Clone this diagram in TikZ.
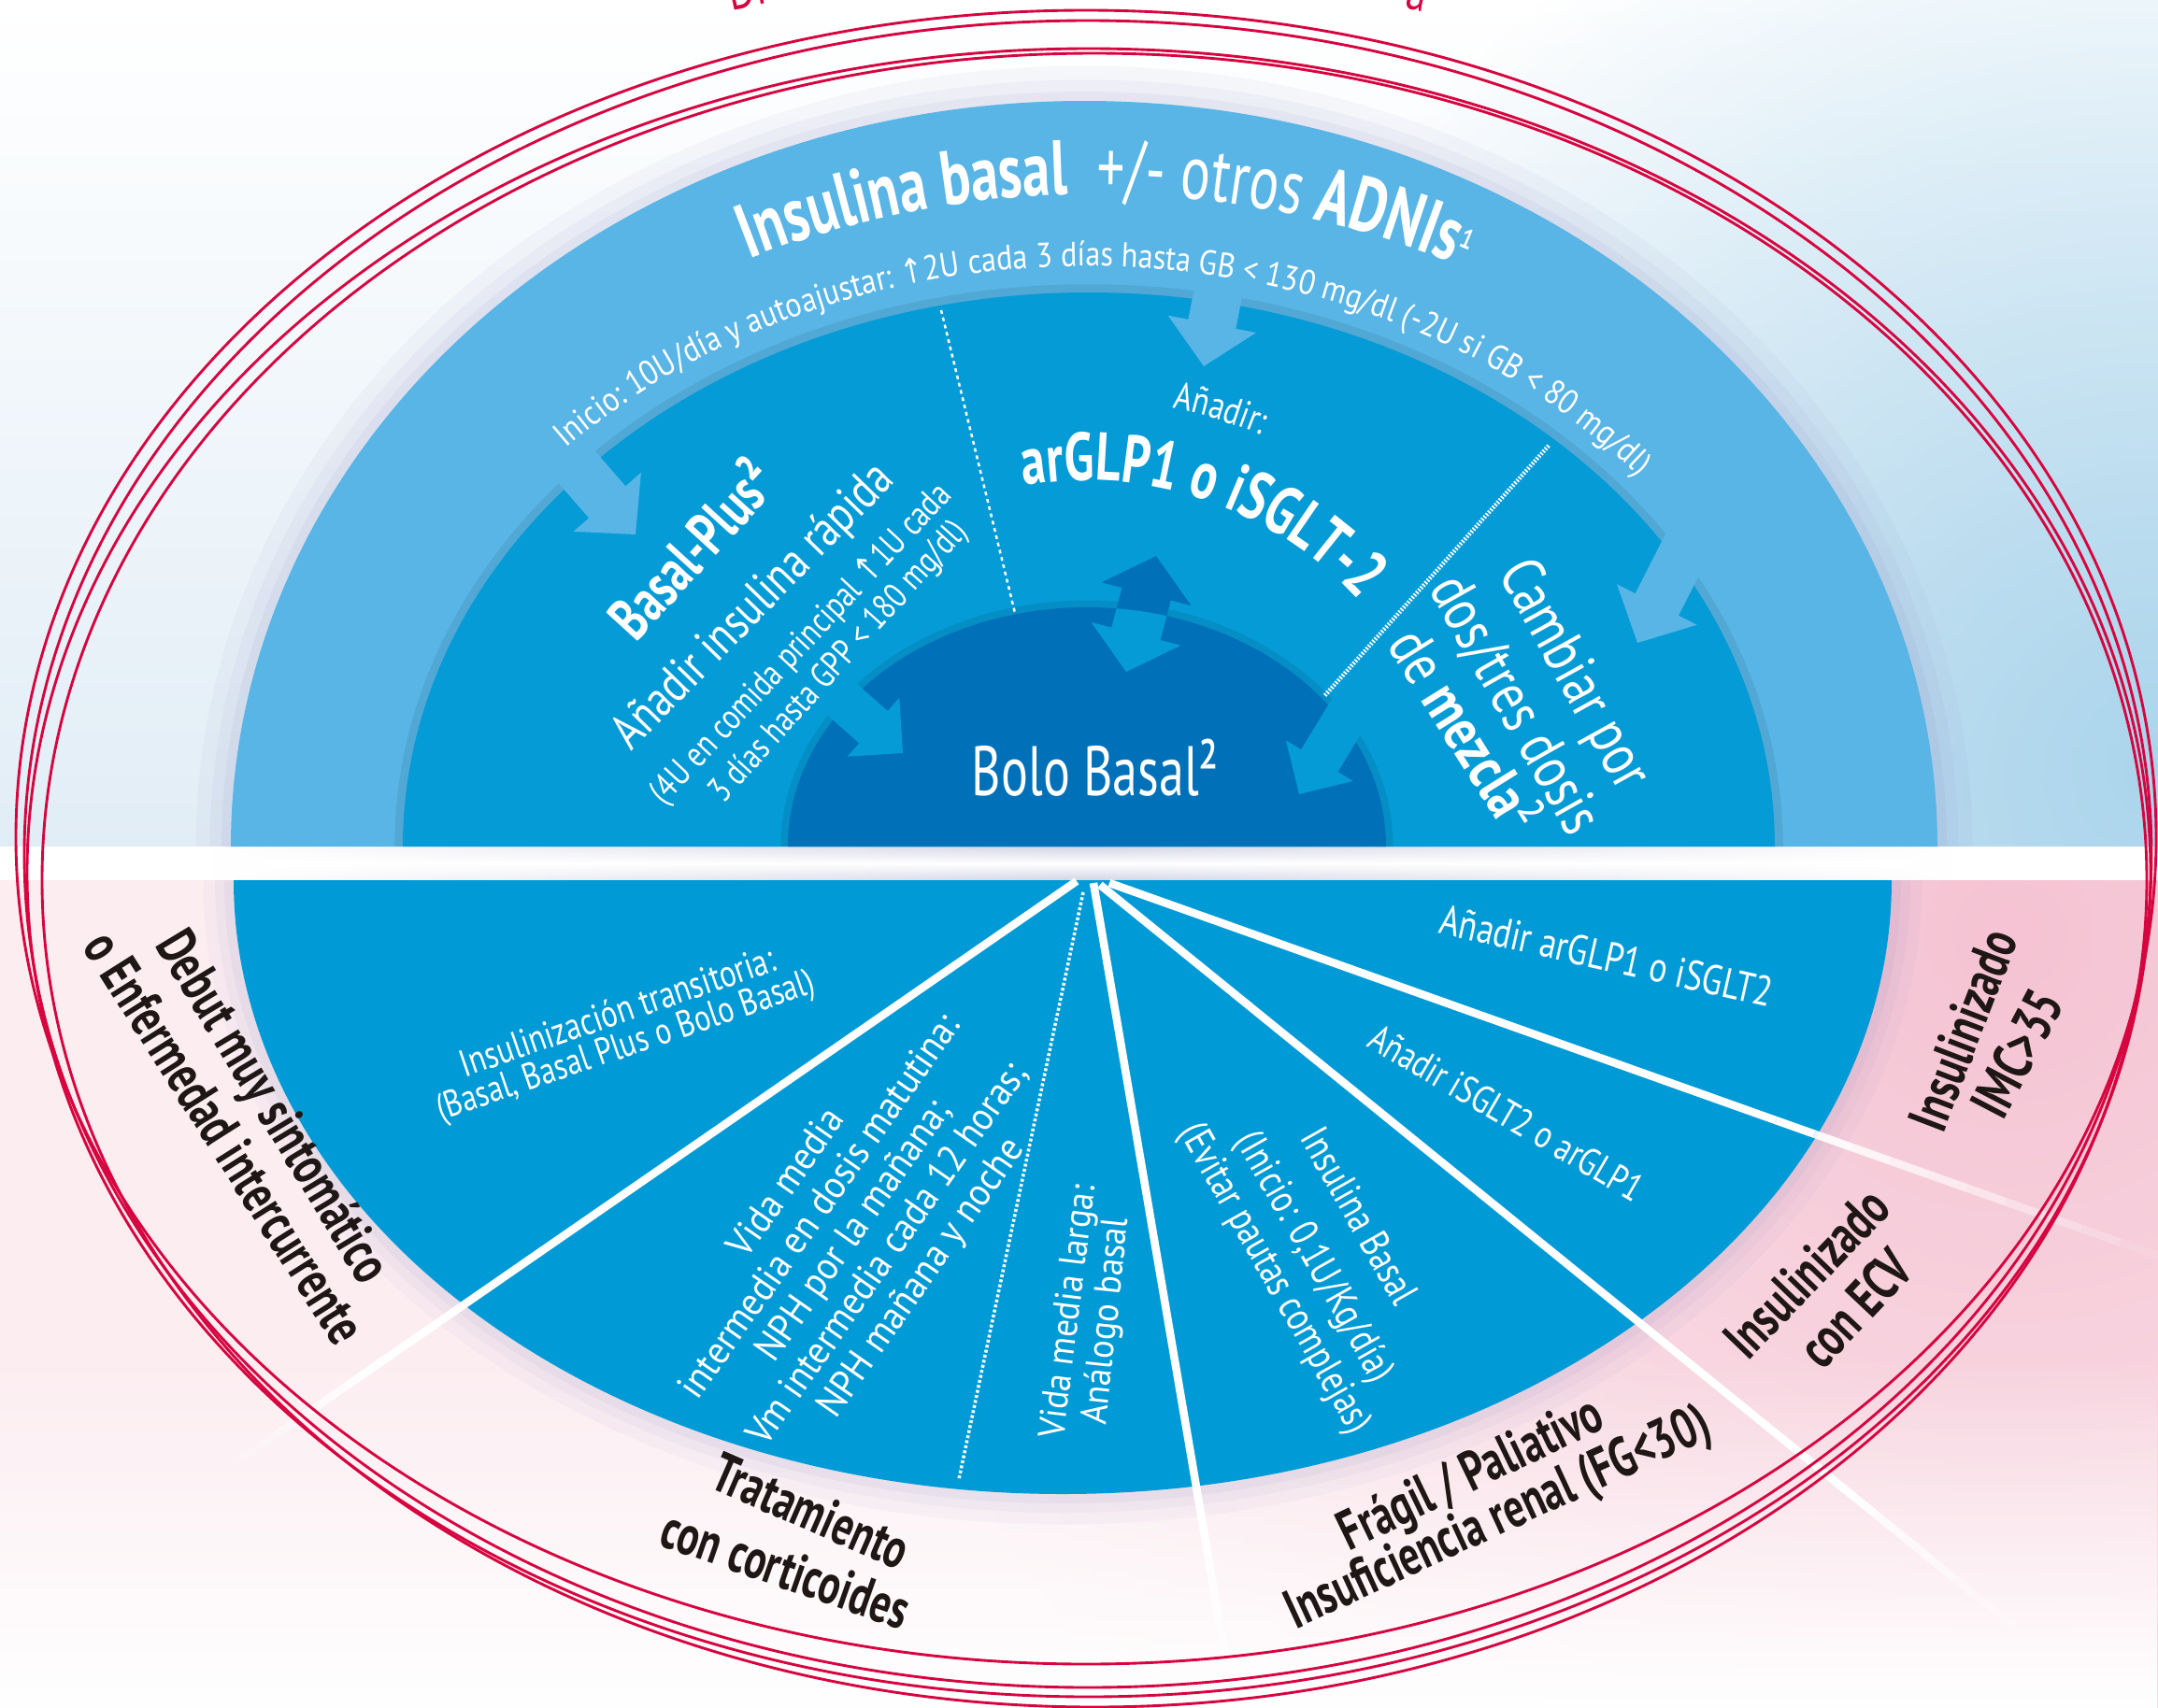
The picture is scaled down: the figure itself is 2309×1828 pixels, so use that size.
\documentclass[tikz,border=0pt]{standalone}
\usepackage{fontspec}
\usetikzlibrary{decorations.text,calc,fadings}
\newfontfamily\fA[FakeStretch=0.8]{PT Sans}
\newfontfamily\fT[FakeStretch=0.72]{PT Sans}
\newfontfamily\fB[FakeStretch=0.87]{PT Sans}
\newfontfamily\fW[FakeStretch=0.92]{PT Sans}
\newfontfamily\fArr[FakeStretch=0.8]{DejaVu Sans}
\definecolor{lb}{HTML}{58B5E6}
\definecolor{mb}{HTML}{059BD6}
\definecolor{db}{HTML}{0071B8}
\definecolor{bb}{HTML}{009BD6}
\definecolor{rd}{HTML}{D6043F}
\definecolor{lab}{HTML}{1E1715}
\definecolor{lav}{HTML}{8C8BC2}
\definecolor{topb}{HTML}{E1EDF6}
\definecolor{rbl}{HTML}{ABD5EC}
\definecolor{pkA}{HTML}{FCEDF1}
\definecolor{pkB}{HTML}{F5C3D3}
\definecolor{bandg}{HTML}{D3D5E5}
\tikzfading[name=radfade, inner color=transparent!0, outer color=transparent!100]
\tikzfading[name=fadeup, top color=transparent!100, bottom color=transparent!0]
\tikzfading[name=hmid, left color=transparent!100, right color=transparent!100, middle color=transparent!0]
\newcommand{\titB}{\color{white}\fT\bfseries\fontsize{33pt}{35pt}\selectfont}
\newcommand{\titR}{\color{white}\fT\mdseries\fontsize{33pt}{35pt}\selectfont}
\newcommand{\titS}{\color{white}\fT\mdseries\fontsize{20pt}{21pt}\selectfont}
\newcommand{\iniF}{\color{white}\fB\mdseries\fontsize{14.8pt}{16pt}\selectfont}
\newcommand{\iniA}{\color{white}\fArr\fontsize{14.8pt}{16pt}\selectfont}
\newcommand{\argF}{\color{white}\fT\bfseries\fontsize{29pt}{31pt}\selectfont}
\newcommand{\anF}{\color{white}\fA\mdseries\fontsize{16.5pt}{18pt}\selectfont}
\newcommand{\blkarrow}[8]{%
 \pgfmathsetmacro{\bkdx}{(#3)-(#1)}%
 \pgfmathsetmacro{\bkdy}{(#2)-(#4)}%
 \pgfmathsetmacro{\bkang}{atan2(\bkdy,\bkdx)}%
 \pgfmathsetmacro{\bklen}{veclen(\bkdx,\bkdy)}%
 \pgfmathsetmacro{\bks}{\bklen-(#7)}%
 \begin{scope}[shift={(#1,-#2)},rotate=\bkang]
 \fill[#8] (0,-#5/2) -- (\bks,-#5/2) -- (\bks,-#6/2) -- (\bklen,0) -- (\bks,#6/2) -- (\bks,#5/2) -- (0,#5/2) -- cycle;
 \end{scope}}
\newcommand{\fadeseg}[2]{%
 \foreach \fdi in {0,...,9}{%
  \pgfmathsetmacro{\fta}{\fdi/10}%
  \pgfmathsetmacro{\ftb}{(\fdi+1)/10}%
  \pgfmathsetmacro{\fdop}{1-\fdi/10}%
  \draw[wl, opacity=\fdop] ($(#1)!\fta!(#2)$) -- ($(#1)!\ftb!(#2)$);}}
\begin{document}
\begin{tikzpicture}[x=0.4pt,y=0.4pt,
  wt/.style={text=white, inner sep=0pt, align=center},
  lbl/.style={text=lab, inner sep=0pt, align=center, font=\fT\bfseries\fontsize{24pt}{26pt}\selectfont},
  wl/.style={draw=white, line width=3.4pt},
  redl/.style={draw=rd, line width=1.15pt}]
\useasboundingbox (0,0) rectangle (2309,-1828);
\clip (0,0) rectangle (2309,-1828);
% ---------- backgrounds
\fill[white] (0,0) rectangle (2309,-1828);
\shade[top color=white, bottom color=topb] (0,0) rectangle (2309,-906);
\begin{scope}
 \clip (0,0) rectangle (2309,-906);
 \fill[rbl, path fading=radfade] (2309,-820) circle (1050);
\end{scope}
\fill[pkA] (0,-942) rectangle (2309,-1828);
\begin{scope}
 \clip (0,-942) rectangle (2309,-1828);
 \fill[pkB, path fading=radfade] (2150,-1000) circle (1250);
\end{scope}
\fill[white, path fading=fadeup] (0,-1450) rectangle (2309,-1828);
\fill[white] (0,-906) rectangle (2309,-942);
\shade[top color=bandg, bottom color=bandg, middle color=white, path fading=hmid] (230,-906) rectangle (2090,-942);
% ---------- top half rings
\foreach \w/\o in {30pt/0.06,18pt/0.07,8pt/0.09}{\draw[lav, line width=\w, opacity=\o] (247,-906) arc[start angle=180,end angle=0,x radius=913,y radius=798];}
\fill[lb] (247,-906) arc[start angle=180,end angle=0,x radius=913,y radius=798] -- cycle;
\draw[black, opacity=0.07, line width=7pt] (431,-906) arc[start angle=180,end angle=0,x radius=734,y radius=593];
\fill[mb] (431,-906) arc[start angle=180,end angle=0,x radius=734,y radius=593] -- cycle;
\blkarrow{1306}{300}{1288}{392}{52}{96}{46}{lb}
\blkarrow{598}{478}{680}{572}{52}{96}{46}{lb}
\blkarrow{1812}{570}{1752}{688}{52}{96}{46}{lb}
\draw[black, opacity=0.08, line width=6pt] (843,-906) arc[start angle=180,end angle=0,x radius=320,y radius=256];
\fill[db] (843,-906) arc[start angle=180,end angle=0,x radius=320,y radius=256] -- cycle;
\blkarrow{880}{730}{966}{806}{46}{84}{42}{mb}
\blkarrow{1452}{748}{1390}{850}{46}{84}{42}{mb}
% double arrow, two tones
\begin{scope}[shift={(1205,-719)},rotate=75.5]
 \fill[db] (0,0) -- (42,49.5) -- (42,27) -- (86,27) -- (86,49.5) -- (128,0) -- (86,-49.5) -- (86,-27) -- (42,-27) -- (42,-49.5) -- cycle;
\end{scope}
\begin{scope}
 \clip (843,-906) arc[start angle=180,end angle=0,x radius=320,y radius=256] -- cycle;
 \begin{scope}[shift={(1205,-719)},rotate=75.5]
  \fill[mb] (0,0) -- (42,49.5) -- (42,27) -- (86,27) -- (86,49.5) -- (128,0) -- (86,-49.5) -- (86,-27) -- (42,-27) -- (42,-49.5) -- cycle;
 \end{scope}
\end{scope}
% dotted separators
\coordinate (d1a) at (1007,-332); \coordinate (d1b) at (1086,-656);
\draw[white, line width=1pt, dash pattern=on 1.6pt off 1.6pt] (d1a) -- (d1b);
\coordinate (d2a) at (1657,-477); \coordinate (d2b) at (1417,-745);
\draw[white, line width=1.8pt, dash pattern=on 0.7pt off 0.7pt] (d2a) -- (d2b);
% ---------- top texts
\path[decorate, decoration={text along path, text align=center,
  text={|\titB|Insulina basal |\titR| +/- otros |\titB|ADNIs|\titS|¹}}]
  (1172,-906) ++(165:855 and 698) arc[start angle=165, end angle=13, x radius=855, y radius=698];
\path[decorate, decoration={text along path, text align=center,
  text={|\iniF|Inicio:  10U/día y autoajustar: |\iniA|↑|\iniF|2U cada 3 días hasta GB < 130 mg/dl (-2U si GB < 80 mg/dl)}}]
  (1163,-906) ++(165:766 and 621) arc[start angle=165, end angle=11, x radius=766, y radius=621];
\path[decorate, decoration={text along path, text align=center, text={|\argF|arGLP1 o iSGLT-2}}]
  (1163,-906) ++(127:392) arc[start angle=127, end angle=15, radius=392];
\path[decorate, decoration={text along path, text align=center, text={|\anF|Añadir:}}]
  (1163,-906) ++(97:478) arc[start angle=97, end angle=49, radius=478];
\node[wt, rotate=47.6, font=\fT\bfseries\fontsize{26pt}{28pt}\selectfont] (bp1) at (739,-586) {Basal-Plus²};
\node[wt, rotate=45.7, font=\fA\fontsize{21.6pt}{24pt}\selectfont] (bp2) at (807,-650) {Añadir insulina rápida};
\node[wt, rotate=47, font=\fA\fontsize{15.4pt}{17pt}\selectfont] (bp3) at (858,-690) {(4U en comida principal {\fArr ↑}1U cada};
\node[wt, rotate=48, font=\fA\fontsize{15.2pt}{17pt}\selectfont] (bp4) at (898,-709) {3 días hasta GPP < 180 mg/dl)};
\node[wt, rotate=-61, font=\fA\fontsize{26pt}{28pt}\selectfont] (cb1) at (1682,-723) {Cambiar por};
\node[wt, rotate=-60.5, font=\fA\fontsize{26pt}{28pt}\selectfont] (cb2) at (1620,-755) {dos/tres dosis};
\node[wt, rotate=-58, font=\fA\fontsize{26pt}{28pt}\selectfont] (cb3) at (1570,-780) {de \textbf{mezcla}²};
\node[wt, font=\fT\fontsize{30pt}{32pt}\selectfont] (bolo) at (1172,-822) {Bolo Basal²};
% ---------- bottom half
\foreach \w/\o in {26pt/0.05,16pt/0.06,8pt/0.08}{\draw[lav, line width=\w, opacity=\o] (250,-942) arc[start angle=180,end angle=360,x radius=887,y radius=657];}
\fill[bb] (250,-942) arc[start angle=180,end angle=360,x radius=887,y radius=657] -- cycle;
% radial lines
\coordinate (apA) at (1152,-943); \coordinate (pA1) at (400,-1463); \coordinate (pA2) at (250,-1567);
\coordinate (apC) at (1170,-945); \coordinate (pC1) at (1290,-1650); \coordinate (pC2) at (1318,-1812);
\coordinate (apD) at (1177,-947); \coordinate (pD1) at (1964,-1586); \coordinate (pD2) at (2175,-1757);
\coordinate (apE) at (1187,-945); \coordinate (pE1) at (1900,-1199); \coordinate (pE2) at (2309,-1344);
\draw[wl] (apA) -- (pA1); \fadeseg{pA1}{pA2}
\draw[wl] (apC) -- (pC1); \fadeseg{pC1}{pC2}
\draw[wl] (apD) -- (pD1); \fadeseg{pD1}{pD2}
\draw[wl] (apE) -- (pE1); \fadeseg{pE1}{pE2}
\coordinate (apB) at (1159,-955); \coordinate (pB1) at (1026,-1583);
\draw[white, line width=1.4pt, dash pattern=on 1.2pt off 1pt] (apB) -- (pB1);
% white texts
\node[wt, rotate=18.9, font=\fA\fontsize{16.4pt}{18pt}\selectfont] (t1a) at (660,-1082) {Insulinización transitoria:};
\node[wt, rotate=18.9, font=\fA\fontsize{16pt}{18pt}\selectfont] (t1b) at (670,-1121) {(Basal, Basal Plus o Bolo Basal)};
\node[wt, rotate=55, font=\fW\fontsize{16.8pt}{17.6pt}\selectfont] (t2) at (915,-1318) {Vida media\\intermedia en dosis matutina:\\NPH por la mañana;\\Vm intermedia cada 12 horas;\\NPH mañana y noche};
\node[wt, rotate=83, font=\fW\fontsize{16pt}{18pt}\selectfont] (t3a) at (1145,-1404) {Vida media larga:};
\node[wt, rotate=84, font=\fW\fontsize{16pt}{18pt}\selectfont] (t3b) at (1185,-1414) {Análogo basal};
\node[wt, rotate=-60.5, font=\fA\fontsize{17.5pt}{20pt}\selectfont] (t4a) at (1455,-1301) {Insulina Basal};
\node[wt, rotate=-60.5, font=\fA\fontsize{17.5pt}{20pt}\selectfont] (t4b) at (1405,-1346) {(Inicio: 0,1U/Kg/día)};
\node[wt, rotate=-60.5, font=\fA\fontsize{17.5pt}{20pt}\selectfont] (t4c) at (1363,-1369) {(Evitar pautas complejas)};
\node[wt, rotate=-30.3, font=\fA\fontsize{16.5pt}{18pt}\selectfont] (t5) at (1612,-1191) {Añadir iSGLT2 o arGLP1};
\node[wt, rotate=-12.6, font=\fA\fontsize{18pt}{20pt}\selectfont] (t6) at (1719,-1023) {Añadir arGLP1 o iSGLT2};
% black labels
\node[lbl, rotate=-58.9] (l1a) at (289,-1186) {Debut muy sintomático};
\node[lbl, rotate=-57.7] (l1b) at (241,-1217) {o Enfermedad intercurrente};
\node[lbl, rotate=-23.5] (l2a) at (868,-1617) {Tratamiento};
\node[lbl, rotate=-19.3] (l2b) at (841,-1679) {con corticoides};
\node[lbl, rotate=25.7] (l3a) at (1575,-1580) {Frágil / Paliativo};
\node[lbl, rotate=24.8] (l3b) at (1604,-1627) {Insuficiencia renal (FG<30)};
\node[lbl, rotate=46] (l4a) at (1933,-1362) {Insulinizado};
\node[lbl, rotate=46.6] (l4b) at (1985,-1400) {con ECV};
\node[lbl, rotate=69] (l5a) at (2100,-1102) {Insulinizado};
\node[lbl, rotate=62.4] (l5b) at (2158,-1127) {IMC>35};
% ---------- red ellipses
\draw[redl] (1162,-896) ellipse [x radius=1145, y radius=885];
\draw[redl] (1164,-914) ellipse [x radius=1138, y radius=892];
\draw[redl] (1165,-934) ellipse [x radius=1136, y radius=882];
\draw[redl] (1171,-942) ellipse [x radius=1126, y radius=885];
\node[text=rd, font=\fA\fontsize{22pt}{24pt}\selectfont, anchor=base west, rotate=12, inner sep=0pt] (tt1) at (782,-12) {Di};
\node[text=rd, font=\fA\fontsize{22pt}{24pt}\selectfont, anchor=base west, rotate=-12, inner sep=0pt] (tt2) at (1502,-8) {a};
\end{tikzpicture}
\end{document}
